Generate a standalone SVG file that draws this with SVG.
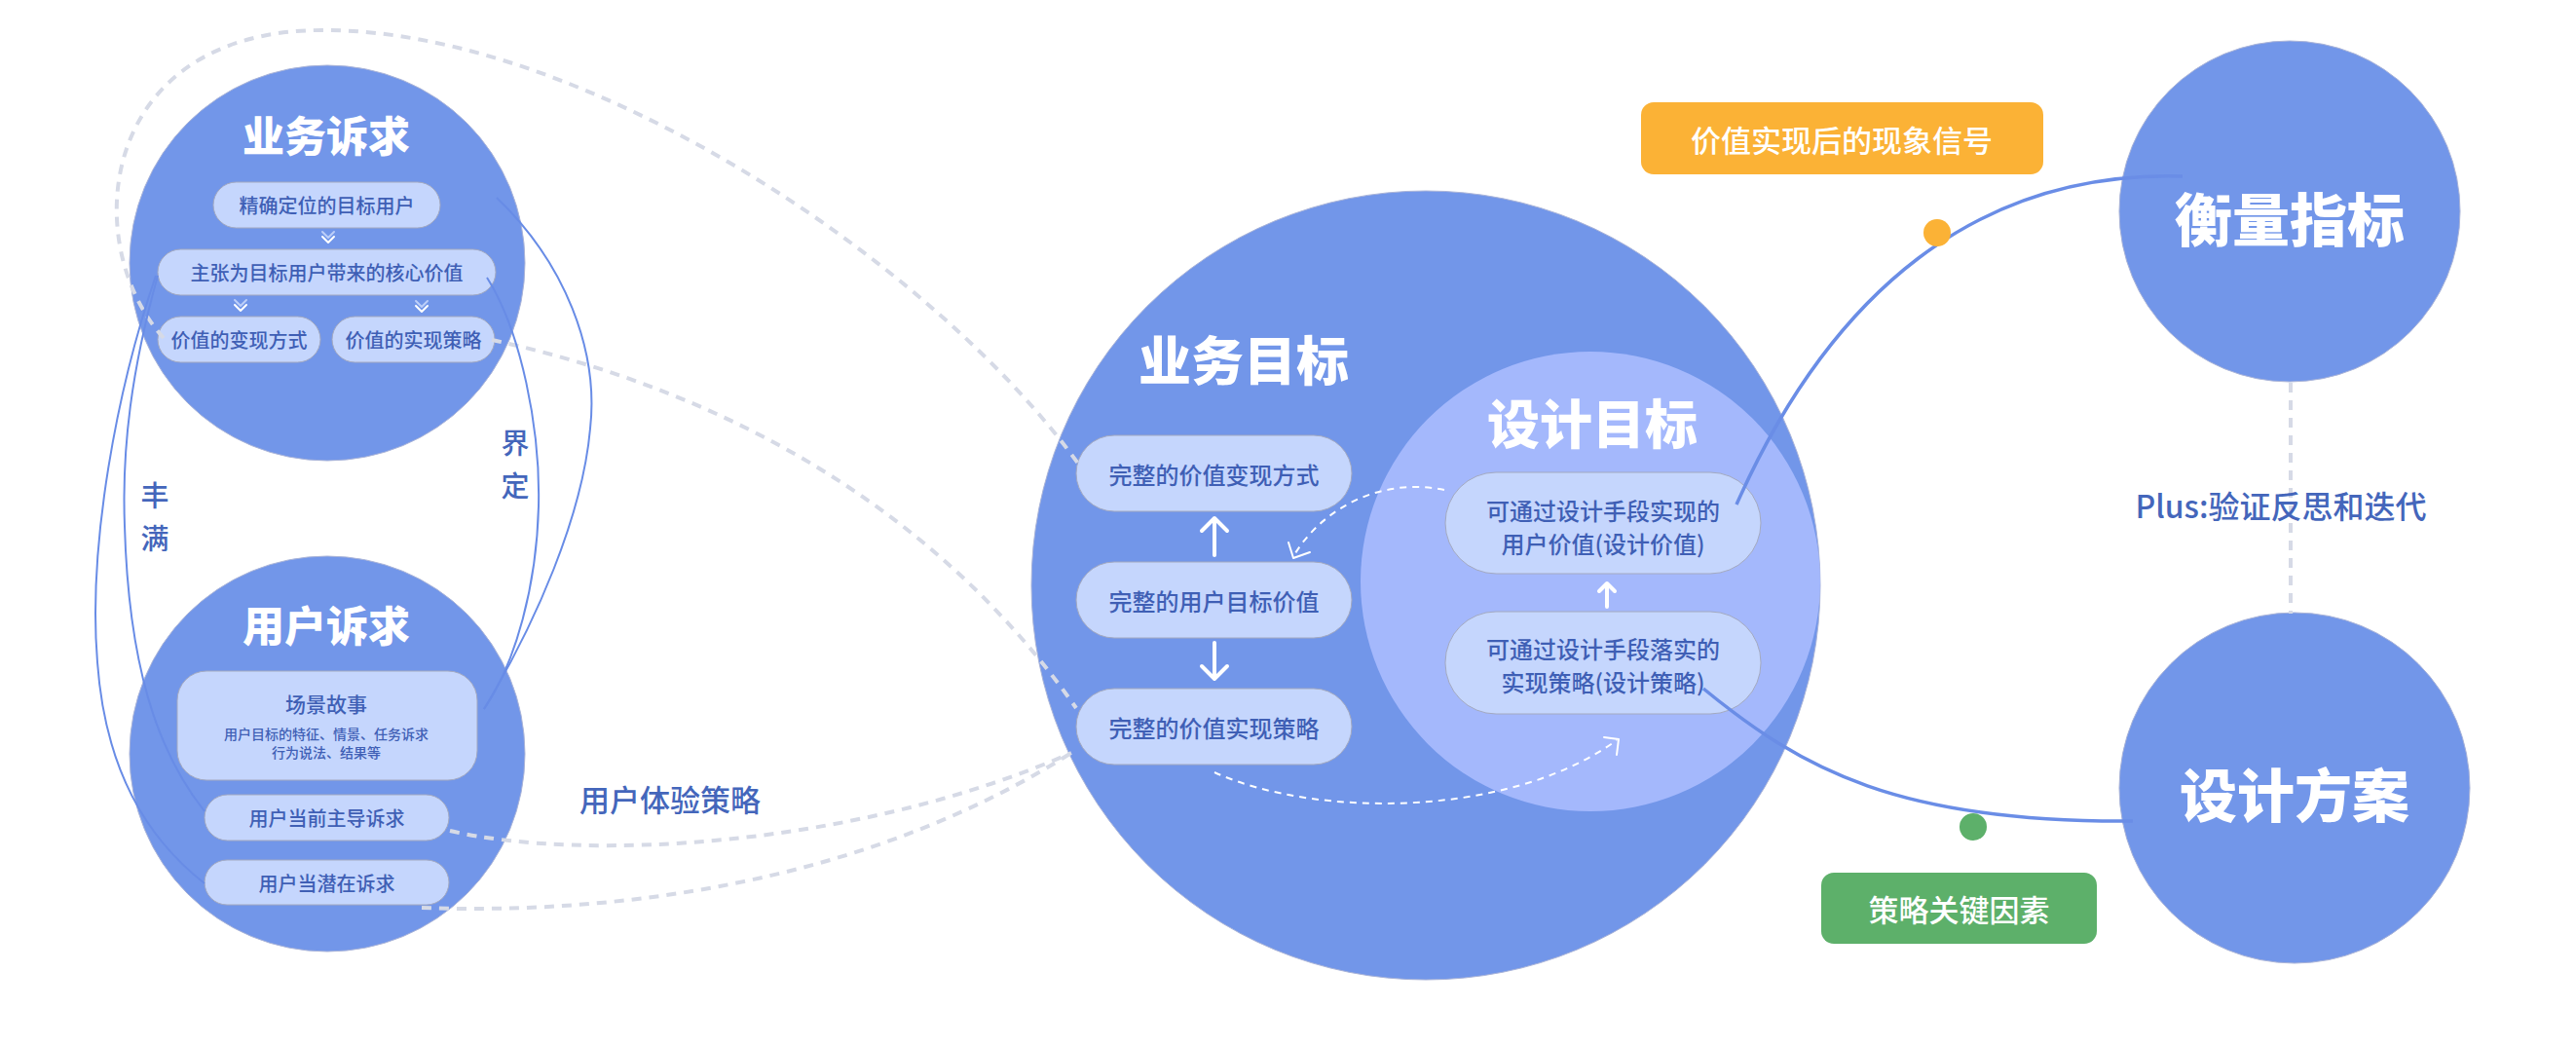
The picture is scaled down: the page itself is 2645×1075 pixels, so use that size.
<svg xmlns="http://www.w3.org/2000/svg" width="2645" height="1075" viewBox="0 0 2645 1075">
<style>
.c{fill:#7296e9;stroke:#aab4d8;stroke-width:1}
.ci{fill:#a4b8fc}
.pill{fill:#c5d6fd;stroke:#a3a9c0;stroke-width:1}
.t{font-family:"Noto Sans CJK SC","Noto Sans",sans-serif;text-anchor:middle;dominant-baseline:central}
.pt{fill:#3f5fb5;font-weight:500}
.ttl{fill:#ffffff;font-weight:900}
.lbl{fill:#4466bb;font-weight:500}
.gd{fill:none;stroke:#d6dae6;stroke-width:4;stroke-dasharray:10 8}
.bl{fill:none;stroke:#688ce6;stroke-width:2}
.bb{fill:none;stroke:#6a8de6;stroke-width:3.5}
.wd{fill:none;stroke:#ffffff;stroke-width:2;stroke-dasharray:7 6}
.wh{fill:none;stroke:#ffffff;stroke-width:2;stroke-linecap:round;stroke-linejoin:round}
.wa{fill:none;stroke:#ffffff;stroke-width:4;stroke-linecap:round;stroke-linejoin:round}
.chv{fill:none;stroke-width:2;stroke-linecap:round;stroke-linejoin:round}
</style>
<rect width="2645" height="1075" fill="#ffffff"/>

<g id="business-needs">
<circle class="c" cx="336" cy="270" r="203"/>
<text class="t ttl" x="335" y="137" font-size="43">业务诉求</text>
<g id="bn-target-user"><rect class="pill" x="219" y="187" width="233" height="47" rx="23.5"/><text class="t pt" x="335.5" y="210.5" font-size="20">精确定位的目标用户</text></g>
<path class="chv" stroke="#dbe5ff" stroke-opacity="0.7" d="M331 238 L337 244 L343 238"/>
<path class="chv" stroke="#ffffff" d="M331 243 L337 249 L343 243"/>
<g id="bn-core-value"><rect class="pill" x="162" y="256" width="347" height="47" rx="23.5"/><text class="t pt" x="335.5" y="279.5" font-size="20">主张为目标用户带来的核心价值</text></g>
<path class="chv" stroke="#dbe5ff" stroke-opacity="0.7" d="M241 308 L247 314 L253 308"/>
<path class="chv" stroke="#ffffff" d="M241 313 L247 319 L253 313"/>
<path class="chv" stroke="#dbe5ff" stroke-opacity="0.7" d="M427 309 L433 315 L439 309"/>
<path class="chv" stroke="#ffffff" d="M427 314 L433 320 L439 314"/>
<g id="bn-monetize"><rect class="pill" x="162" y="325" width="167" height="47" rx="23.5"/><text class="t pt" x="245.5" y="348.5" font-size="20">价值的变现方式</text></g>
<g id="bn-strategy"><rect class="pill" x="341" y="325" width="167" height="47" rx="23.5"/><text class="t pt" x="424.5" y="348.5" font-size="20">价值的实现策略</text></g>
</g>

<g id="user-needs">
<circle class="c" cx="336" cy="774" r="203"/>
<text class="t ttl" x="335" y="640" font-size="43">用户诉求</text>
<g id="un-scenario"><rect class="pill" x="182" y="689" width="308" height="112" rx="30"/>
<text class="t pt" x="335" y="722" font-size="21">场景故事</text>
<text class="t pt" x="335" y="753" font-size="14">用户目标的特征、情景、任务诉求</text>
<text class="t pt" x="335" y="772" font-size="14">行为说法、结果等</text></g>
<g id="un-current"><rect class="pill" x="210" y="816" width="251" height="47" rx="23.5"/><text class="t pt" x="335.5" y="839.5" font-size="20">用户当前主导诉求</text></g>
<g id="un-latent"><rect class="pill" x="210" y="883" width="251" height="46" rx="23"/><text class="t pt" x="335.5" y="906" font-size="20">用户当潜在诉求</text></g>
</g>

<g id="business-goal">
<circle class="c" cx="1464" cy="601" r="405"/>
<text class="t ttl" x="1277" y="367" font-size="54">业务目标</text>
<g id="bg-monetize"><rect class="pill" x="1105" y="447" width="283" height="78" rx="39"/><text class="t pt" x="1246.5" y="486" font-size="24">完整的价值变现方式</text></g>
<g id="bg-user-value"><rect class="pill" x="1105" y="577" width="283" height="78" rx="39"/><text class="t pt" x="1246.5" y="616" font-size="24">完整的用户目标价值</text></g>
<g id="bg-strategy"><rect class="pill" x="1105" y="707" width="283" height="78" rx="39"/><text class="t pt" x="1246.5" y="746" font-size="24">完整的价值实现策略</text></g>
<path class="wa" d="M1247 570 L1247 532 M1234 545 L1247 532 L1260 545"/>
<path class="wa" d="M1247 660 L1247 697 M1234 684 L1247 697 L1260 684"/>
</g>

<g id="design-goal">
<circle class="ci" cx="1633" cy="597" r="236"/>
<text class="t ttl" x="1635" y="432" font-size="54">设计目标</text>
<g id="dg-value"><rect class="pill" x="1484" y="485" width="324" height="104" rx="52"/>
<text class="t pt" x="1646" y="523" font-size="24">可通过设计手段实现的</text>
<text class="t pt" x="1646" y="557" font-size="24">用户价值(设计价值)</text></g>
<g id="dg-strategy"><rect class="pill" x="1484" y="628" width="324" height="105" rx="52"/>
<text class="t pt" x="1646" y="665" font-size="24">可通过设计手段落实的</text>
<text class="t pt" x="1646" y="699" font-size="24">实现策略(设计策略)</text></g>
<path class="wa" stroke-width="3" d="M1650 623 L1650 599 M1642 607 L1650 599 L1658 607"/>
</g>

<g id="metrics">
<circle class="c" cx="2351" cy="217" r="175"/>
<text class="t ttl" x="2351" y="222" font-size="59">衡量指标</text>
</g>

<g id="design-plan">
<circle class="c" cx="2356" cy="809" r="180"/>
<text class="t ttl" x="2356" y="813" font-size="59">设计方案</text>
</g>

<g id="signal-label">
<rect x="1685" y="105" width="413" height="74" rx="13" fill="#fbb236"/>
<text class="t" x="1891" y="142" font-size="31" fill="#ffffff" font-weight="500">价值实现后的现象信号</text>
</g>

<g id="factor-label">
<rect x="1870" y="896" width="283" height="73" rx="13" fill="#5db06a"/>
<text class="t" x="2011.5" y="932.5" font-size="31" fill="#ffffff" font-weight="500">策略关键因素</text>
</g>

<g id="connectors">
<path class="gd" d="M168 347 C80 250 100 30 333 31 C600 31 960 270 1110 480"/>
<path class="gd" d="M505 349 C740 400 960 520 1105 727"/>
<path class="gd" d="M462 853 C600 885 880 870 1100 773"/>
<path class="gd" d="M433 932 C650 940 900 900 1100 773"/>
<path class="gd" stroke-width="3" stroke-dasharray="8 6" d="M2352 393 L2352 630"/>
<path class="bl" d="M160 283 C120 400 90 560 100 680 C108 790 150 860 210 907"/>
<path class="bl" d="M162 283 C135 380 125 460 128 540 C132 680 160 770 210 833"/>
<path class="bl" d="M510 203 C580 270 615 360 606 440 C598 530 550 640 497 728"/>
<path class="bl" d="M500 285 C535 340 555 440 553 520 C551 600 530 680 497 728"/>
<path class="wd" d="M1483 503 C1420 490 1360 520 1330 568"/>
<path class="wh" d="M1323 557 L1328 573 L1345 567"/>
<path class="wd" d="M1247 793 C1350 840 1550 840 1660 760"/>
<path class="wh" d="M1647 757 L1662 759 L1660 775"/>
<path class="bb" d="M1783 518 C1880 300 2030 175 2241 181"/>
<path class="bb" d="M1749 707 C1850 790 1950 845 2190 843"/>
<circle cx="1989" cy="239" r="14" fill="#fbb236"/>
<circle cx="2026" cy="849" r="14" fill="#5db06a"/>
</g>

<g id="labels">
<text class="t lbl" x="159" y="507" font-size="29">丰</text>
<text class="t lbl" x="159" y="551" font-size="29">满</text>
<text class="t lbl" x="529" y="453" font-size="29">界</text>
<text class="t lbl" x="529" y="497" font-size="29">定</text>
<text class="t lbl" x="688" y="819" font-size="31">用户体验策略</text>
<text class="t lbl" x="2342" y="518" font-size="32" font-weight="600">Plus:验证反思和迭代</text>
</g>
</svg>
